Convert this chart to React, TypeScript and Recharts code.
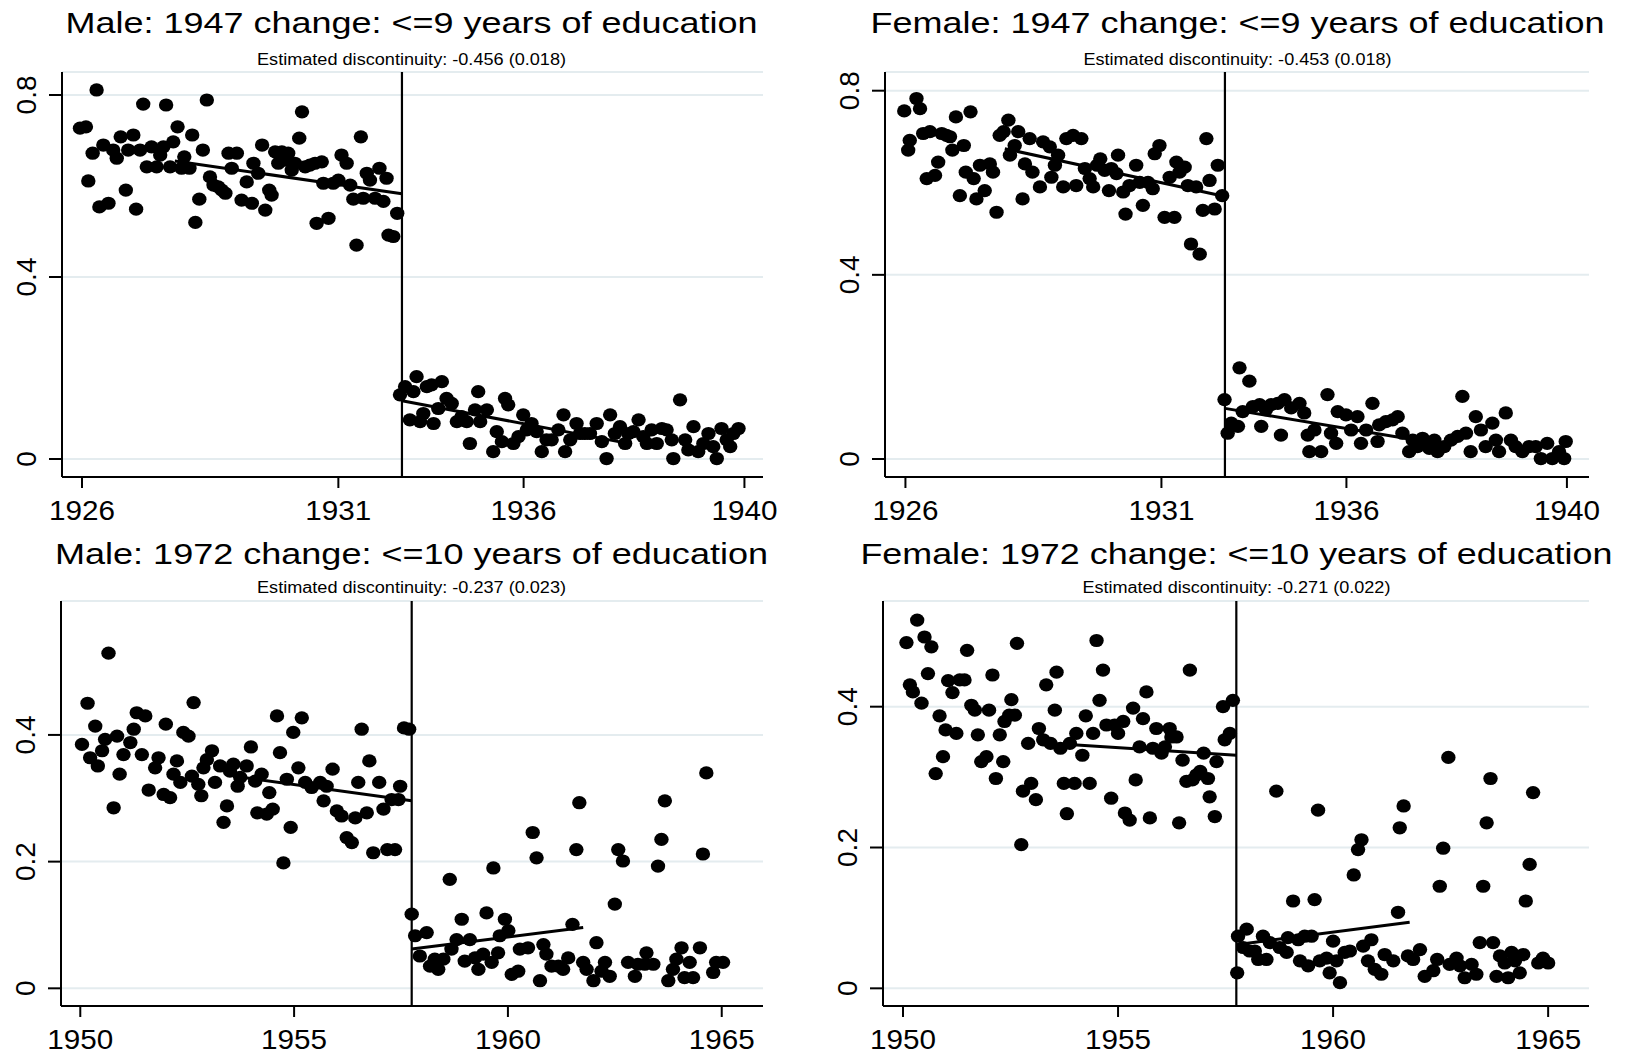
import React from 'react'
import { ScatterChart, Scatter, XAxis, YAxis, CartesianGrid, ReferenceLine } from 'recharts'

type Pt = [number, number]

// panels 1-2: x = birth-month index (cutoff cohort = 81.5), panels 3-4: x = birth year
const cohortTicks47 = [0.5, 65.4, 112.3, 168.2]
const cohortLabels47 = ['1926', '1931', '1936', '1940']
const cohortTicks72 = [1950, 1955, 1960, 1965]
const cohortLabels72 = ['1950', '1955', '1960', '1965']

const titles = [
  'Male: 1947 change: <=9 years of education',
  'Female: 1947 change: <=9 years of education',
  'Male: 1972 change: <=10 years of education',
  'Female: 1972 change: <=10 years of education',
]
const subtitles = [
  'Estimated discontinuity: -0.456 (0.018)',
  'Estimated discontinuity: -0.453 (0.018)',
  'Estimated discontinuity: -0.237 (0.023)',
  'Estimated discontinuity: -0.271 (0.022)',
]

const male1947: Pt[] = [
  [0, .727], [1.5, .730], [2.1, .611], [3.2, .672], [4.2, .811], [4.9, .554], [5.9, .690], [7.2, .562], [8.4, .679], [9.3, .661],
  [10.3, .708], [11.6, .591], [12.2, .679], [13.5, .712], [14.2, .549], [15.2, .679], [16.0, .780], [16.9, .642], [18.1, .686], [19.4, .642],
  [20.3, .668], [21.1, .686], [21.8, .778], [22.8, .642], [23.6, .697], [24.7, .730], [25.7, .639], [26.4, .664], [27.7, .639], [28.4, .712],
  [29.2, .520], [30.2, .571], [31.1, .679], [32.1, .789], [32.9, .620], [33.8, .602], [35.0, .598], [35.9, .591], [36.8, .584], [37.6, .672],
  [38.4, .639], [39.7, .672], [40.9, .569], [42.2, .609], [43.5, .562], [43.9, .650], [45.1, .628], [46.1, .690], [46.9, .547], [47.9, .591],
  [48.5, .580], [49.4, .675], [50.2, .650], [51.1, .675], [51.9, .657], [52.7, .672], [53.6, .635], [54.4, .650], [55.5, .705], [56.2, .763],
  [57.0, .642], [58.2, .646], [59.5, .650], [59.9, .518], [61.2, .653], [61.6, .606], [62.9, .529], [64.1, .606], [65.4, .613], [66.2, .668],
  [67.5, .650], [68.4, .602], [69.2, .571], [70.0, .470], [71.1, .708], [71.7, .573], [72.6, .628], [73.4, .613], [74.7, .573], [75.8, .639],
  [76.8, .566], [77.6, .617], [78.1, .492], [79.3, .489], [80.3, .540],
  [81.0, .141], [82.3, .159], [83.5, .086], [84.4, .148], [85.2, .181], [86.1, .082], [86.9, .100], [87.8, .159], [89.5, .078], [89.0, .163],
  [90.7, .111], [91.6, .170], [92.8, .133], [94.1, .122], [95.4, .082], [96.6, .093], [97.9, .082], [98.7, .034], [100.0, .108], [100.8, .148],
  [101.3, .082], [103.0, .108], [104.6, .016], [105.5, .060], [106.8, .038], [107.6, .133], [108.4, .119], [109.7, .034], [111.0, .049], [112.2, .097],
  [113.1, .064], [114.3, .078], [115.6, .060], [116.9, .016], [118.1, .042], [119.4, .042], [121.1, .064], [122.4, .097], [122.8, .016], [124.1, .042],
  [125.7, .078], [126.6, .056], [127.8, .056], [129.1, .056], [130.8, .078], [132.1, .038], [133.3, .001], [134.2, .097], [135.4, .056], [136.7, .071],
  [138.0, .034], [138.8, .056], [140.1, .060], [141.4, .086], [142.6, .049], [143.5, .034], [144.7, .064], [146.0, .034], [147.3, .067], [148.5, .064],
  [149.8, .042], [150.2, .001], [151.9, .130], [153.2, .042], [154.0, .020], [155.3, .071], [156.5, .016], [157.8, .034], [159.1, .056], [160.3, .027],
  [161.2, .001], [162.4, .067], [163.7, .042], [164.6, .027], [165.4, .056], [166.7, .067],
]

const female1947: Pt[] = [
  [0.2, .756], [1.2, .671], [1.6, .692], [3.3, .783], [4.2, .761], [5.0, .707], [5.9, .609], [6.7, .711], [8.0, .616], [8.8, .645],
  [9.7, .707], [10.9, .703], [11.8, .700], [12.4, .671], [13.3, .743], [14.3, .572], [15.3, .681], [15.8, .623], [17.0, .754], [17.8, .609],
  [18.5, .565], [19.4, .638], [20.6, .583], [21.9, .641], [22.7, .623], [23.6, .536], [24.4, .703], [25.4, .711], [26.6, .736], [27.0, .660],
  [28.2, .681], [29.1, .711], [30.2, .565], [30.8, .641], [32.0, .696], [32.7, .623], [34.6, .591], [35.4, .689], [37.1, .678], [37.5, .612],
  [38.4, .638], [39.2, .660], [40.5, .591], [41.3, .696], [43.0, .703], [43.8, .594], [45.1, .696], [46.0, .631], [47.2, .609], [48.1, .591],
  [49.1, .638], [49.9, .652], [51.0, .627], [52.1, .583], [52.7, .631], [54.0, .620], [54.4, .660], [55.7, .580], [56.3, .532], [57.3, .594],
  [59.0, .638], [59.9, .601], [60.7, .551], [62.0, .601], [63.2, .587], [63.7, .663], [64.9, .681], [66.2, .525], [67.5, .612], [68.7, .525],
  [69.2, .645], [70.0, .623], [71.3, .634], [72.1, .594], [72.9, .467], [74.2, .591], [75.1, .445], [75.9, .540], [76.8, .696], [77.6, .605],
  [78.9, .543], [79.7, .638], [80.8, .572],
  [81.4, .129], [82.2, .056], [83.1, .078], [84.8, .071], [85.2, .198], [86.0, .103], [87.7, .169], [88.6, .114], [90.3, .118], [90.7, .071],
  [91.9, .107], [93.2, .118], [94.9, .121], [95.7, .052], [96.6, .129], [98.3, .111], [100.4, .121], [101.6, .100], [102.5, .052], [102.9, .016],
  [104.2, .063], [105.9, .016], [107.5, .140], [108.4, .056], [109.7, .034], [110.1, .103], [112.2, .096], [113.5, .063], [115.1, .092], [116.0, .034],
  [117.3, .063], [118.9, .121], [120.2, .038], [120.6, .074], [122.3, .081], [124.0, .085], [125.3, .092], [126.5, .056], [128.2, .016], [129.1, .041],
  [130.3, .027], [131.6, .045], [133.3, .023], [134.6, .041], [135.4, .016], [137.1, .027], [138.8, .041], [140.5, .049], [141.7, .136], [142.6, .056],
  [143.8, .016], [145.1, .092], [146.4, .063], [147.6, .027], [149.3, .078], [150.2, .041], [151.0, .016], [152.7, .100], [154.0, .041], [155.2, .027],
  [156.9, .016], [158.6, .027], [160.3, .027], [161.6, .001], [163.2, .034], [164.5, .001], [166.2, .016], [167.5, .001], [167.9, .038],
]

const male1972: Pt[] = [
  [1950.04, .385], [1950.17, .450], [1950.23, .364], [1950.35, .414], [1950.41, .351], [1950.51, .375], [1950.58, .393], [1950.66, .529], [1950.78, .285], [1950.86, .398],
  [1950.92, .338], [1951.01, .369], [1951.17, .388], [1951.25, .409], [1951.32, .435], [1951.44, .369], [1951.52, .430], [1951.60, .313], [1951.75, .348], [1951.83, .364],
  [1951.95, .306], [1952.00, .417], [1952.10, .301], [1952.18, .338], [1952.26, .359], [1952.34, .325], [1952.41, .404], [1952.53, .398], [1952.61, .335], [1952.65, .451],
  [1952.76, .322], [1952.83, .304], [1952.88, .348], [1952.96, .361], [1953.08, .375], [1953.15, .325], [1953.27, .351], [1953.35, .262], [1953.43, .288], [1953.50, .343],
  [1953.58, .354], [1953.68, .319], [1953.74, .333], [1953.89, .351], [1953.99, .381], [1954.09, .327], [1954.14, .277], [1954.24, .338], [1954.36, .275], [1954.42, .309],
  [1954.50, .283], [1954.60, .430], [1954.67, .372], [1954.75, .198], [1954.83, .330], [1954.92, .254], [1954.98, .404], [1955.10, .348], [1955.18, .427], [1955.26, .325],
  [1955.41, .317], [1955.61, .325], [1955.69, .296], [1955.76, .319], [1955.90, .346], [1956.00, .280], [1956.11, .272], [1956.23, .238], [1956.35, .230], [1956.43, .269],
  [1956.50, .325], [1956.58, .409], [1956.70, .277], [1956.76, .359], [1956.85, .214], [1956.99, .325], [1957.09, .283], [1957.18, .219], [1957.28, .298], [1957.36, .219],
  [1957.44, .298], [1957.48, .319], [1957.57, .411], [1957.69, .409],
  [1957.75, .117], [1957.83, .083], [1957.94, .051], [1958.10, .088], [1958.18, .035], [1958.29, .046], [1958.37, .030], [1958.49, .046], [1958.64, .172], [1958.68, .062],
  [1958.80, .077], [1958.92, .109], [1958.99, .043], [1959.11, .077], [1959.23, .048], [1959.31, .030], [1959.42, .054], [1959.50, .119], [1959.62, .041], [1959.66, .190],
  [1959.77, .056], [1959.81, .083], [1959.93, .109], [1960.01, .091], [1960.09, .022], [1960.24, .027], [1960.28, .062], [1960.47, .064], [1960.58, .246], [1960.67, .206],
  [1960.75, .012], [1960.83, .069], [1960.90, .054], [1961.02, .035], [1961.18, .035], [1961.29, .030], [1961.41, .048], [1961.51, .101], [1961.60, .219], [1961.67, .293],
  [1961.76, .041], [1961.84, .030], [1962.00, .012], [1962.07, .072], [1962.19, .027], [1962.27, .041], [1962.38, .019], [1962.50, .133], [1962.58, .219], [1962.69, .201],
  [1962.81, .041], [1962.97, .019], [1963.04, .038], [1963.24, .056], [1963.20, .038], [1963.40, .038], [1963.51, .193], [1963.59, .235], [1963.67, .296], [1963.75, .012],
  [1963.86, .030], [1963.94, .046], [1964.06, .064], [1964.13, .017], [1964.25, .041], [1964.33, .017], [1964.49, .064], [1964.56, .212], [1964.64, .340], [1964.80, .025],
  [1964.87, .041], [1965.03, .041],
]

const female1972: Pt[] = [
  [1950.08, .491], [1950.16, .431], [1950.23, .421], [1950.33, .523], [1950.43, .405], [1950.50, .499], [1950.58, .447], [1950.66, .485], [1950.76, .305], [1950.85, .387],
  [1950.93, .329], [1950.99, .367], [1951.05, .437], [1951.15, .420], [1951.24, .362], [1951.32, .438], [1951.43, .438], [1951.49, .480], [1951.59, .402], [1951.67, .395],
  [1951.74, .360], [1951.82, .322], [1951.94, .329], [1952.00, .395], [1952.08, .445], [1952.16, .298], [1952.25, .360], [1952.33, .322], [1952.36, .379], [1952.47, .388],
  [1952.52, .410], [1952.60, .388], [1952.65, .490], [1952.75, .204], [1952.79, .280], [1952.91, .348], [1952.98, .291], [1953.09, .268], [1953.16, .369], [1953.26, .353],
  [1953.33, .431], [1953.43, .348], [1953.53, .395], [1953.57, .449], [1953.66, .341], [1953.74, .291], [1953.81, .248], [1953.88, .348], [1953.99, .291], [1954.03, .362],
  [1954.17, .331], [1954.25, .387], [1954.34, .291], [1954.42, .362], [1954.50, .494], [1954.57, .409], [1954.65, .452], [1954.73, .374], [1954.84, .270], [1954.92, .374],
  [1955.00, .362], [1955.12, .379], [1955.16, .249], [1955.27, .239], [1955.35, .398], [1955.41, .296], [1955.50, .343], [1955.58, .383], [1955.66, .421], [1955.74, .242],
  [1955.81, .341], [1955.89, .369], [1956.01, .334], [1956.09, .343], [1956.20, .369], [1956.24, .357], [1956.36, .357], [1956.42, .235], [1956.50, .324], [1956.59, .294],
  [1956.67, .452], [1956.73, .296], [1956.82, .303], [1956.91, .308], [1956.99, .334], [1957.09, .298], [1957.13, .272], [1957.25, .244], [1957.29, .322], [1957.44, .400],
  [1957.48, .353], [1957.60, .362], [1957.67, .409],
  [1957.77, .022], [1957.79, .074], [1957.91, .058], [1957.99, .084], [1958.06, .053], [1958.18, .053], [1958.26, .041], [1958.37, .074], [1958.45, .041], [1958.53, .065],
  [1958.68, .280], [1958.76, .058], [1958.92, .051], [1958.95, .072], [1959.07, .124], [1959.19, .069], [1959.23, .039], [1959.34, .074], [1959.42, .032], [1959.50, .074],
  [1959.57, .126], [1959.65, .253], [1959.69, .039], [1959.85, .043], [1959.92, .022], [1960.00, .067], [1960.08, .039], [1960.16, .008], [1960.27, .051], [1960.39, .053],
  [1960.48, .161], [1960.58, .197], [1960.66, .211], [1960.70, .060], [1960.81, .039], [1960.89, .069], [1960.97, .027], [1961.12, .020], [1961.20, .048], [1961.40, .039],
  [1961.51, .108], [1961.55, .228], [1961.64, .259], [1961.74, .046], [1961.86, .041], [1962.02, .055], [1962.13, .017], [1962.33, .025], [1962.42, .041], [1962.48, .145],
  [1962.56, .199], [1962.68, .328], [1962.71, .034], [1962.87, .043], [1962.95, .032], [1963.06, .015], [1963.22, .034], [1963.33, .020], [1963.41, .065], [1963.49, .145],
  [1963.57, .235], [1963.66, .298], [1963.72, .065], [1963.80, .017], [1963.88, .046], [1963.99, .036], [1964.07, .015], [1964.15, .051], [1964.23, .039], [1964.34, .022],
  [1964.42, .048], [1964.48, .124], [1964.57, .176], [1964.65, .278], [1964.77, .036], [1964.88, .043], [1965.00, .036],
]

// local linear fits either side of the cutoff (end points)
const male1947Fit: Pt[][] = [[[24, .655], [81.5, .583]], [[81.5, .128], [137, .037]]]
const female1947Fit: Pt[][] = [[[25.7, .674], [81.5, .570]], [[81.5, .110], [137, .031]]]
const male1972Fit: Pt[][] = [[[1953.58, .335], [1957.75, .296]], [[1957.75, .062], [1961.76, .096]]]
const female1972Fit: Pt[][] = [[[1953.95, .346], [1957.75, .331]], [[1957.75, .062], [1961.78, .094]]]

const FONT = '"Liberation Sans", Arial, Helvetica, sans-serif'
const rows = (pts: Pt[]) => pts.map(([x, y]) => ({ x, y }))

interface PanelProps {
  left: number
  top: number
  width: number
  margin: { top: number; right: number; bottom: number; left: number }
  yWidth: number
  xHeight: number
  xDomain: [number, number]
  yDomain: [number, number]
  xTicks: number[]
  xLabels: string[]
  yTicks: number[]
  cutoff: number
  points: Pt[]
  fits: Pt[][]
}

function Panel(p: PanelProps) {
  const xTick = (props: any) => {
    const i = p.xTicks.indexOf(props.payload.value)
    return (
      <text x={props.x} y={props.y + 32} textAnchor="middle" fontSize={27} fontFamily={FONT} fill="#000"
        textLength={66} lengthAdjust="spacingAndGlyphs">
        {p.xLabels[i]}
      </text>
    )
  }
  const yTick = (props: any) => {
    const bx = props.x - 12.5
    return (
      <text x={bx} y={props.y} textAnchor="middle" fontSize={28} fontFamily={FONT} fill="#000"
        transform={`rotate(-90, ${bx}, ${props.y})`}>
        {String(props.payload.value)}
      </text>
    )
  }
  return (
    <div style={{ position: 'absolute', left: p.left, top: p.top }}>
      <ScatterChart width={p.width} height={528} margin={p.margin}>
        <CartesianGrid vertical={false} stroke="#e4ecef" strokeWidth={2} />
        <XAxis dataKey="x" type="number" domain={p.xDomain} ticks={p.xTicks} interval={0}
          allowDataOverflow height={p.xHeight} tickSize={11} tickMargin={0}
          axisLine={{ stroke: '#000', strokeWidth: 2 }} tickLine={{ stroke: '#000', strokeWidth: 2 }} tick={xTick} />
        <YAxis dataKey="y" type="number" domain={p.yDomain} ticks={p.yTicks} interval={0}
          allowDataOverflow width={p.yWidth} tickSize={13} tickMargin={0}
          axisLine={{ stroke: '#000', strokeWidth: 2 }} tickLine={{ stroke: '#000', strokeWidth: 2 }} tick={yTick} />
        <Scatter data={rows(p.points)} isAnimationActive={false}
          shape={(s: any) => <ellipse cx={s.cx} cy={s.cy} rx={7.2} ry={6.6} fill="#000" />} />
        {p.fits.map((f, i) => (
          <Scatter key={i} data={rows(f)} isAnimationActive={false}
            line={{ stroke: '#000', strokeWidth: 3 }} shape={() => <g />} />
        ))}
        <ReferenceLine x={p.cutoff} stroke="#000" strokeWidth={2.2} />
      </ScatterChart>
    </div>
  )
}

const titleSpots = [
  { cx: 411.5, y: 33.3, len: 692, sy: 65, slen: 309 },
  { cx: 1237.5, y: 33.3, len: 734, sy: 65, slen: 308 },
  { cx: 411.5, y: 564.3, len: 713, sy: 593.3, slen: 309 },
  { cx: 1236.4, y: 564.3, len: 752, sy: 593.3, slen: 308 },
]

export default function App() {
  return (
    <div style={{ position: 'absolute', left: 0, top: 0, width: 1625, height: 1056, background: '#fff', overflow: 'hidden' }}>
      <Panel left={0} top={0} width={812} margin={{ top: 72, right: 49, bottom: 0, left: 0 }} yWidth={62} xHeight={51}
        xDomain={[-4.56, 172.9]} yDomain={[-0.0396, 0.8505]} xTicks={cohortTicks47} xLabels={cohortLabels47}
        yTicks={[0, 0.4, 0.8]} cutoff={81.5} points={male1947} fits={male1947Fit} />
      <Panel left={823} top={0} width={802} margin={{ top: 72, right: 36, bottom: 0, left: 0 }} yWidth={62} xHeight={51}
        xDomain={[-4.68, 173.8]} yDomain={[-0.0391, 0.8406]} xTicks={cohortTicks47} xLabels={cohortLabels47}
        yTicks={[0, 0.4, 0.8]} cutoff={81.5} points={female1947} fits={female1947Fit} />
      <Panel left={0} top={528} width={812} margin={{ top: 73, right: 49, bottom: 0, left: 0 }} yWidth={61} xHeight={50}
        xDomain={[1949.549, 1965.965]} yDomain={[-0.0279, 0.6114]} xTicks={cohortTicks72} xLabels={cohortLabels72}
        yTicks={[0, 0.2, 0.4]} cutoff={1957.75} points={male1972} fits={male1972Fit} />
      <Panel left={823} top={528} width={802} margin={{ top: 73, right: 36, bottom: 0, left: 0 }} yWidth={60} xHeight={50}
        xDomain={[1949.535, 1965.95]} yDomain={[-0.0251, 0.5501]} xTicks={cohortTicks72} xLabels={cohortLabels72}
        yTicks={[0, 0.2, 0.4]} cutoff={1957.75} points={female1972} fits={female1972Fit} />
      <svg width={1625} height={1056} style={{ position: 'absolute', left: 0, top: 0, pointerEvents: 'none' }}>
        {titleSpots.map((t, i) => (
          <g key={i} fontFamily={FONT} fill="#000" textAnchor="middle">
            <text x={t.cx} y={t.y} fontSize={30} textLength={t.len} lengthAdjust="spacingAndGlyphs">{titles[i]}</text>
            <text x={t.cx} y={t.sy} fontSize={16} textLength={t.slen} lengthAdjust="spacingAndGlyphs">{subtitles[i]}</text>
          </g>
        ))}
      </svg>
    </div>
  )
}
